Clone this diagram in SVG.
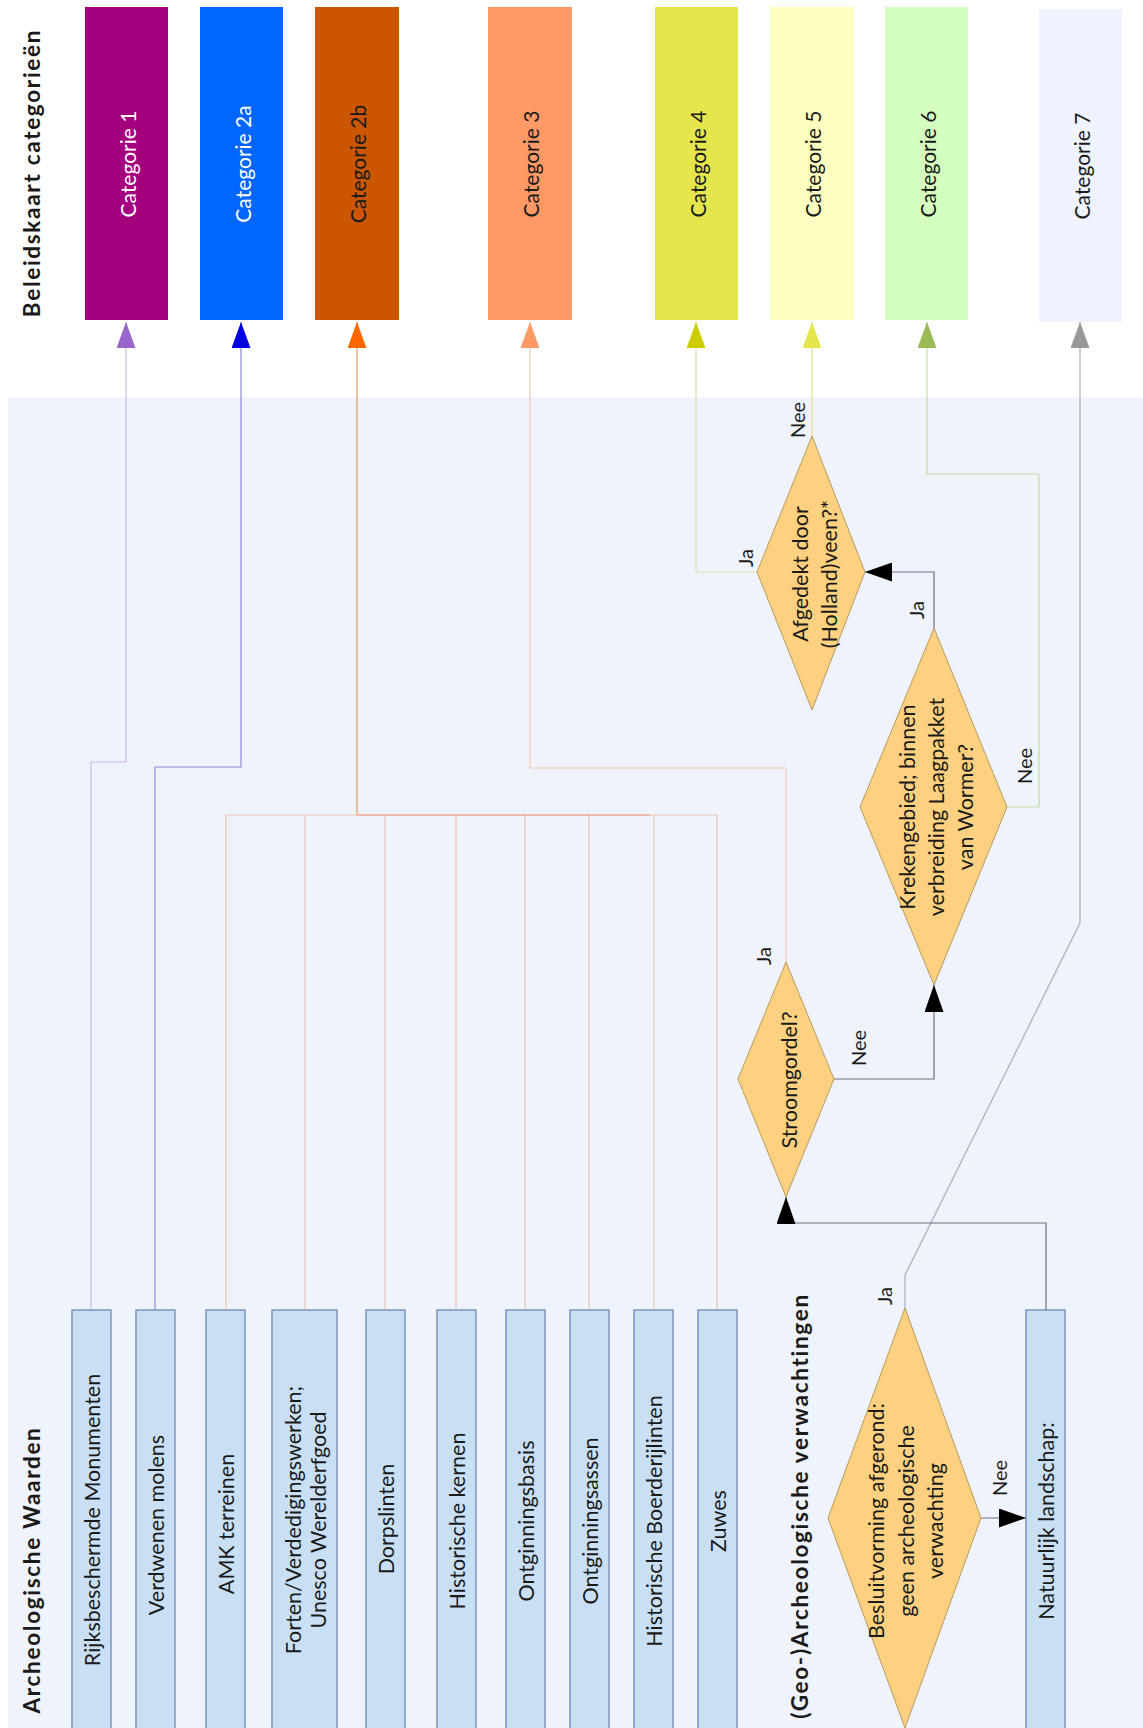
<svg xmlns="http://www.w3.org/2000/svg" width="1143" height="1728" viewBox="0 0 1143 1728">
<style>
text{font-family:Lato,"Open Sans","Liberation Sans",sans-serif;fill:#1a1a1a;dominant-baseline:central;text-anchor:middle}
.cat{font-size:21px}
.title{font-size:22.5px;font-weight:bold;letter-spacing:1.7px}
.box{fill:#C9DFF3;stroke:#6E8AB2;stroke-width:1.3}
.bt{font-size:21.5px}
.dia{fill:#FDD180;stroke:#B89A60;stroke-width:1}
.dt{font-size:21.5px}
.lbl{font-size:20px}
.c{fill:none;stroke-width:1.2}
.dk{stroke:#6E7080}
</style>
<defs>
<marker id="m1" markerUnits="userSpaceOnUse" markerWidth="26" markerHeight="19" refX="26" refY="9.5" orient="auto"><path d="M0,0L26,9.5L0,19z" fill="#9966CC"/></marker>
<marker id="m2a" markerUnits="userSpaceOnUse" markerWidth="26" markerHeight="19" refX="26" refY="9.5" orient="auto"><path d="M0,0L26,9.5L0,19z" fill="#0000E0"/></marker>
<marker id="m2b" markerUnits="userSpaceOnUse" markerWidth="26" markerHeight="19" refX="26" refY="9.5" orient="auto"><path d="M0,0L26,9.5L0,19z" fill="#FF6600"/></marker>
<marker id="m3" markerUnits="userSpaceOnUse" markerWidth="26" markerHeight="19" refX="26" refY="9.5" orient="auto"><path d="M0,0L26,9.5L0,19z" fill="#FF9966"/></marker>
<marker id="m4" markerUnits="userSpaceOnUse" markerWidth="26" markerHeight="19" refX="26" refY="9.5" orient="auto"><path d="M0,0L26,9.5L0,19z" fill="#CCCC00"/></marker>
<marker id="m5" markerUnits="userSpaceOnUse" markerWidth="26" markerHeight="19" refX="26" refY="9.5" orient="auto"><path d="M0,0L26,9.5L0,19z" fill="#E5E54C"/></marker>
<marker id="m6" markerUnits="userSpaceOnUse" markerWidth="26" markerHeight="19" refX="26" refY="9.5" orient="auto"><path d="M0,0L26,9.5L0,19z" fill="#99BB55"/></marker>
<marker id="m7" markerUnits="userSpaceOnUse" markerWidth="26" markerHeight="19" refX="26" refY="9.5" orient="auto"><path d="M0,0L26,9.5L0,19z" fill="#999999"/></marker>
<marker id="mk" markerUnits="userSpaceOnUse" markerWidth="27" markerHeight="19" refX="27" refY="9.5" orient="auto"><path d="M0,0L27,9.5L0,19z" fill="#000"/></marker>
</defs>
<rect x="0" y="0" width="1143" height="1728" fill="#fff"/>
<rect x="8" y="397" width="1135" height="1331" fill="#EEF3FC"/>

<text class="title" transform="rotate(-90 31 173)" x="31" y="173">Beleidskaart categorieën</text>
<text class="title" transform="rotate(-90 31 1570)" x="31" y="1570">Archeologische Waarden</text>
<text class="title" transform="rotate(-90 799 1506)" x="799" y="1506">(Geo-)Archeologische verwachtingen</text>

<g id="cat1"><rect x="85" y="7" width="83" height="313" fill="#A4007D"/><text class="cat" style="fill:#fff" transform="rotate(-90 127 164)" x="127" y="164">Categorie 1</text></g>
<g id="cat2a"><rect x="200" y="7" width="83" height="313" fill="#0066FF"/><text class="cat" style="fill:#fff" transform="rotate(-90 242 164)" x="242" y="164">Categorie 2a</text></g>
<g id="cat2b"><rect x="315" y="7" width="84" height="313" fill="#CC5500"/><text class="cat" transform="rotate(-90 357 164)" x="357" y="164">Categorie 2b</text></g>
<g id="cat3"><rect x="488" y="7" width="84" height="313" fill="#FF9966"/><text class="cat" transform="rotate(-90 530 164)" x="530" y="164">Categorie 3</text></g>
<g id="cat4"><rect x="655" y="7" width="83" height="313" fill="#E5E54C"/><text class="cat" transform="rotate(-90 697 164)" x="697" y="164">Categorie 4</text></g>
<g id="cat5"><rect x="770" y="7" width="84" height="313" fill="#FFFFC0"/><text class="cat" transform="rotate(-90 812 164)" x="812" y="164">Categorie 5</text></g>
<g id="cat6"><rect x="885" y="7" width="83" height="313" fill="#D4FEC0"/><text class="cat" transform="rotate(-90 927 164)" x="927" y="164">Categorie 6</text></g>
<g id="cat7"><rect x="1039" y="9" width="83" height="313" fill="#EEF3FD"/><text class="cat" transform="rotate(-90 1081 166)" x="1081" y="166">Categorie 7</text></g>

<g id="connectors">
<path class="c" stroke="#C8BFE6" d="M91,1310V762H126V322" marker-end="url(#m1)"/>
<path class="c" stroke="#8C8CD6" d="M155,1310V767H241V322" marker-end="url(#m2a)"/>
<g stroke="#EBC6B2" class="c">
<path d="M226,1310V815H357"/>
<path d="M305,1310V815"/><path d="M385,1310V815"/><path d="M456,1310V815"/><path d="M525,1310V815"/><path d="M589,1310V815"/><path d="M654,1310V815"/><path d="M717,1310V815H650"/>
</g>
<path class="c" stroke="#F08060" d="M357,815H650"/>
<path class="c" stroke="#DE9A66" d="M357,815V322" marker-end="url(#m2b)"/>
<path class="c" stroke="#F2C9B6" d="M786,962V768H530V322" marker-end="url(#m3)"/>
<path class="c" stroke="#E0DEA6" d="M757,572H696V322" marker-end="url(#m4)"/>
<path class="c" stroke="#E3E38C" d="M812,436V322" marker-end="url(#m5)"/>
<path class="c" stroke="#C6DCA6" d="M1007,807H1039V474H927V322" marker-end="url(#m6)"/>
<path class="c" stroke="#A6AEBE" d="M905,1308V1275L1080,923V322" marker-end="url(#m7)"/>
<path class="c dk" d="M834,1079H934V985" marker-end="url(#mk)"/>
<path class="c dk" d="M934,628V572H865" marker-end="url(#mk)"/>
<path class="c dk" d="M1046,1310V1223H786V1197" marker-end="url(#mk)"/>
<path class="c dk" d="M981,1518H1026" marker-end="url(#mk)"/>
<text class="lbl" transform="rotate(-90 745 558)" x="745" y="558">Ja</text>
<text class="lbl" transform="rotate(-90 797 420)" x="797" y="420">Nee</text>
<text class="lbl" transform="rotate(-90 916 610)" x="916" y="610">Ja</text>
<text class="lbl" transform="rotate(-90 1024 766)" x="1024" y="766">Nee</text>
<text class="lbl" transform="rotate(-90 763 956)" x="763" y="956">Ja</text>
<text class="lbl" transform="rotate(-90 858 1048)" x="858" y="1048">Nee</text>
<text class="lbl" transform="rotate(-90 884 1296)" x="884" y="1296">Ja</text>
<text class="lbl" transform="rotate(-90 999 1478)" x="999" y="1478">Nee</text>
</g>

<g id="b-rijks"><rect class="box" x="72" y="1310" width="39" height="430"/><text class="bt" transform="rotate(-90 92 1520)" x="92" y="1520">Rijksbeschermde Monumenten</text></g>
<g id="b-molens"><rect class="box" x="136" y="1310" width="39" height="430"/><text class="bt" transform="rotate(-90 156 1525)" x="156" y="1525">Verdwenen molens</text></g>
<g id="b-amk"><rect class="box" x="206" y="1310" width="39" height="430"/><text class="bt" transform="rotate(-90 226 1524)" x="226" y="1524">AMK terreinen</text></g>
<g id="b-forten"><rect class="box" x="272" y="1310" width="65" height="430"/><text class="bt" transform="rotate(-90 293 1520)" x="293" y="1520">Forten/Verdedigingswerken;</text><text class="bt" transform="rotate(-90 318 1520)" x="318" y="1520">Unesco Werelderfgoed</text></g>
<g id="b-dorp"><rect class="box" x="366" y="1310" width="39" height="430"/><text class="bt" transform="rotate(-90 386 1519)" x="386" y="1519">Dorpslinten</text></g>
<g id="b-kernen"><rect class="box" x="437" y="1310" width="39" height="430"/><text class="bt" transform="rotate(-90 457 1521)" x="457" y="1521">Historische kernen</text></g>
<g id="b-obasis"><rect class="box" x="506" y="1310" width="39" height="430"/><text class="bt" transform="rotate(-90 526 1521)" x="526" y="1521">Ontginningsbasis</text></g>
<g id="b-oassen"><rect class="box" x="570" y="1310" width="39" height="430"/><text class="bt" transform="rotate(-90 590 1521)" x="590" y="1521">Ontginningsassen</text></g>
<g id="b-boerd"><rect class="box" x="634" y="1310" width="39" height="430"/><text class="bt" transform="rotate(-90 654 1521)" x="654" y="1521">Historische Boerderijlinten</text></g>
<g id="b-zuwes"><rect class="box" x="698" y="1310" width="39" height="430"/><text class="bt" transform="rotate(-90 718 1521)" x="718" y="1521">Zuwes</text></g>
<g id="b-natuur"><rect class="box" x="1026" y="1310" width="39" height="430"/><text class="bt" transform="rotate(-90 1046 1521)" x="1046" y="1521">Natuurlijk landschap:</text></g>

<g id="d-afgedekt"><path class="dia" d="M812,436L865,572L812,710L757,572z"/><text class="dt" transform="rotate(-90 800 574)" x="800" y="574">Afgedekt door</text><text class="dt" transform="rotate(-90 829 574)" x="829" y="574">(Holland)veen?*</text></g>
<g id="d-kreken"><path class="dia" d="M934,628L1007,807L934,985L860,807z"/><text class="dt" transform="rotate(-90 907 807)" x="907" y="807">Krekengebied; binnen</text><text class="dt" transform="rotate(-90 936 807)" x="936" y="807">verbreiding Laagpakket</text><text class="dt" transform="rotate(-90 965 807)" x="965" y="807">van Wormer?</text></g>
<g id="d-stroom"><path class="dia" d="M786,962L834,1079L786,1197L738,1079z"/><text class="dt" transform="rotate(-90 789 1080)" x="789" y="1080">Stroomgordel?</text></g>
<g id="d-besluit"><path class="dia" d="M905,1308L981,1518L905,1728L828,1518z"/><text class="dt" transform="rotate(-90 876 1521)" x="876" y="1521">Besluitvorming afgerond:</text><text class="dt" transform="rotate(-90 906 1521)" x="906" y="1521">geen archeologische</text><text class="dt" transform="rotate(-90 935 1521)" x="935" y="1521">verwachting</text></g>
</svg>
